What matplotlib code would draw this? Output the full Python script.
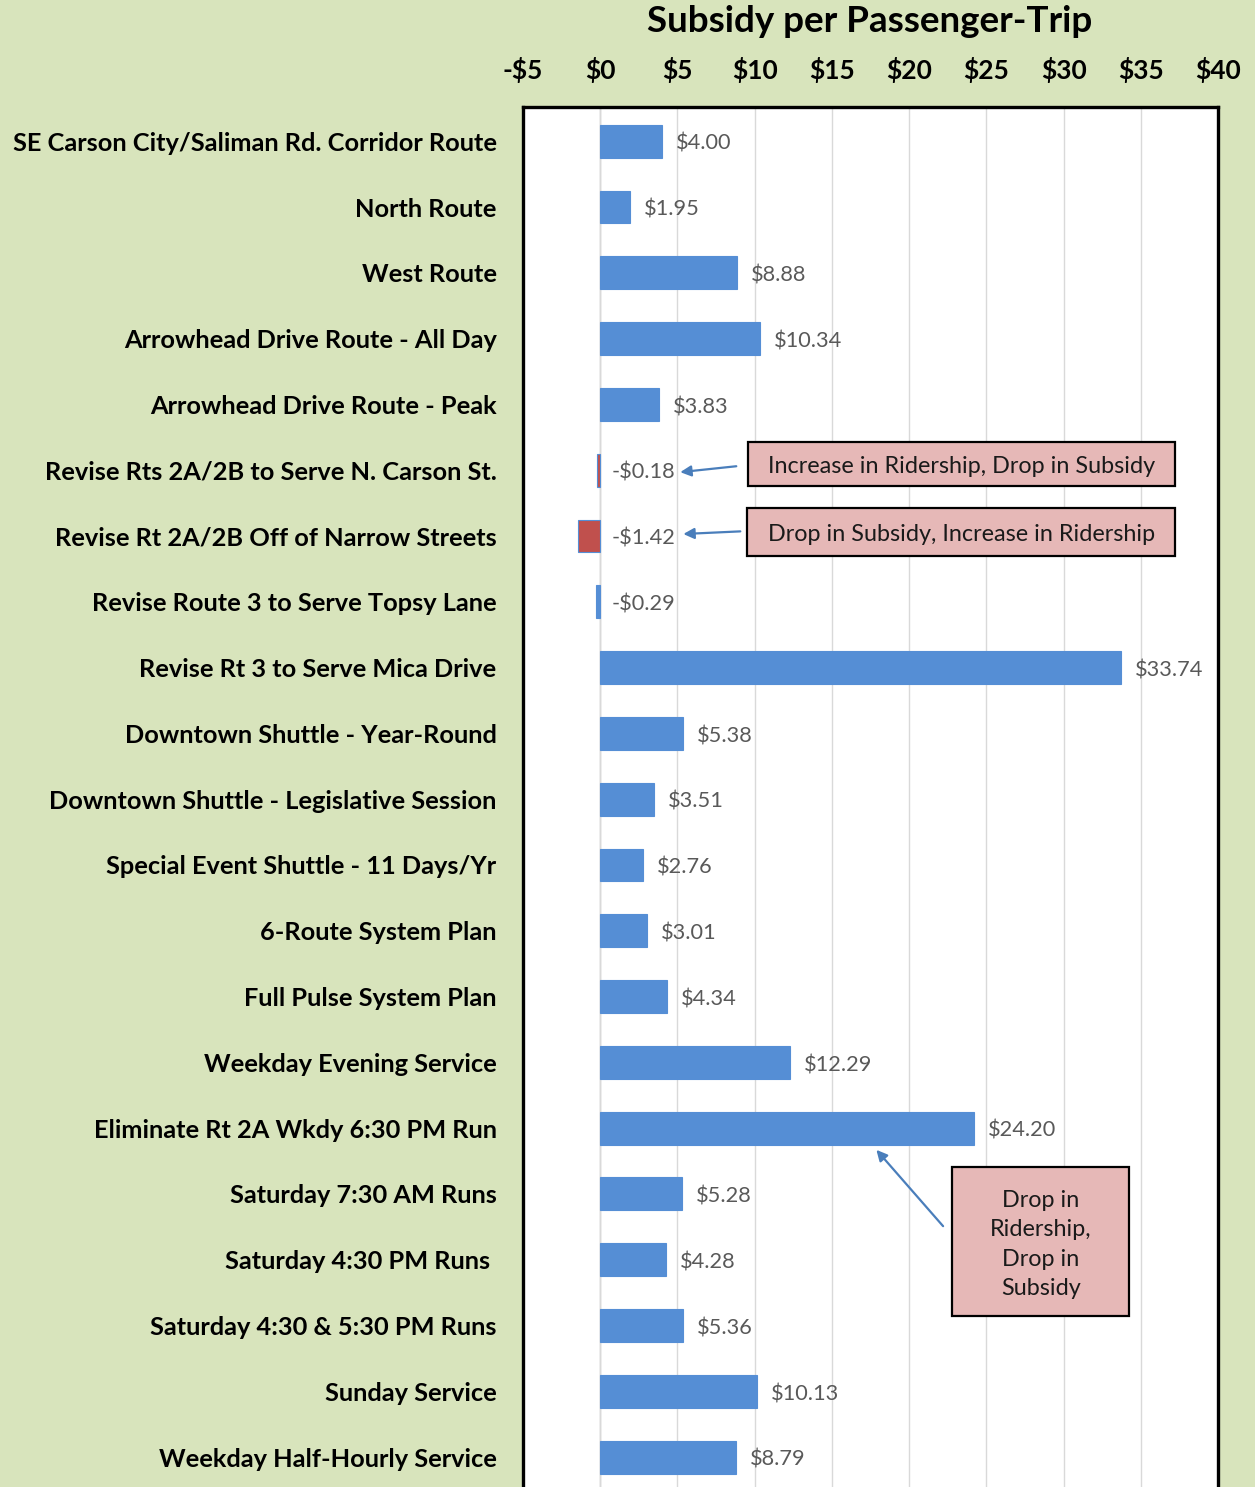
import matplotlib as mpl
mpl.use('Agg')
import matplotlib.pyplot as plt
from matplotlib.patches import Rectangle
import numpy as np

plt.rcParams['font.family'] = ['Lato', 'DejaVu Sans']

# data
routes = [
    "SE Carson City/Saliman Rd. Corridor Route",
    "North Route",
    "West Route",
    "Arrowhead Drive Route - All Day",
    "Arrowhead Drive Route - Peak",
    "Revise Rts 2A/2B to Serve N. Carson St.",
    "Revise Rt 2A/2B Off of Narrow Streets",
    "Revise Route 3 to Serve Topsy Lane",
    "Revise Rt 3 to Serve Mica Drive",
    "Downtown Shuttle - Year-Round",
    "Downtown Shuttle - Legislative Session",
    "Special Event Shuttle - 11 Days/Yr",
    "6-Route System Plan",
    "Full Pulse System Plan",
    "Weekday Evening Service",
    "Eliminate Rt 2A Wkdy 6:30 PM Run",
    "Saturday 7:30 AM Runs",
    "Saturday 4:30 PM Runs ",
    "Saturday 4:30 & 5:30 PM Runs",
    "Sunday Service",
    "Weekday Half-Hourly Service",
]
subsidy = [4.00, 1.95, 8.88, 10.34, 3.83, -0.18, -1.42, -0.29, 33.74, 5.38,
           3.51, 2.76, 3.01, 4.34, 12.29, 24.20, 5.28, 4.28, 5.36, 10.13, 8.79]
highlight = [5, 6]   # bars drawn in red
ticks = list(range(-5, 45, 5))

notes = [
    "Increase in Ridership, Drop in Subsidy",
    "Drop in Subsidy, Increase in Ridership",
    "Drop in\nRidership,\nDrop in\nSubsidy",
]

BG = '#D8E4BC'
BLUE = '#558ED5'
RED = '#C0504D'
PINK = '#E6B8B7'
ARROW = '#4A7EBB'

W, H = 1255, 1487
fig = plt.figure(figsize=(W / 100, H / 100), dpi=100, facecolor=BG)

# axes box in pixels: left 523, right 1218, top 107, bottom ~1490
ax = fig.add_axes([523 / W, -3 / H, (1218 - 523) / W, (1490 - 107) / H])
ax.set_facecolor('white')

y = np.arange(len(routes))
colors = [RED if i in highlight else BLUE for i in range(len(routes))]
ax.barh(y, subsidy, height=0.5, color=colors, edgecolor=BLUE, linewidth=0.8, zorder=3)

ax.set_xlim(-5, 40)
ax.set_ylim(20.5, -0.52)
ax.set_xticks(ticks)
ax.set_xticklabels([('-$%d' % -t) if t < 0 else ('$%d' % t) for t in ticks],
                   fontsize=19, fontweight='bold')
ax.xaxis.tick_top()
ax.tick_params(axis='x', length=0, pad=17)
ax.set_yticks(y)
ax.set_yticklabels(routes, fontsize=18.3, fontweight='bold')
ax.tick_params(axis='y', length=0, pad=19)
ax.grid(axis='x', color='#D9D9D9', linewidth=1, zorder=0)
ax.axvline(0, color='#BFBFBF', linewidth=1, zorder=1)

for s in ['top', 'left', 'right']:
    ax.spines[s].set_linewidth(2.4)
    ax.spines[s].set_color('black')
ax.spines['bottom'].set_visible(False)

# data labels
for i, v in enumerate(subsidy):
    lab = ('-$%.2f' % -v) if v < 0 else ('$%.2f' % v)
    ax.annotate(lab, (max(v, 0), i), xytext=(10 if v >= 0 else 8, -2),
                textcoords='offset points', ha='left', va='center',
                fontsize=15.7, color='#595959', zorder=4)

# callout boxes
boxes = [(9.59, 4.575, 37.24, 5.243), (9.52, 5.578, 37.24, 6.307),
         (22.8, 15.59, 34.26, 17.86)]
for (x0, y0, x1, y1), txt in zip(boxes, notes):
    ax.add_patch(Rectangle((x0, y0), x1 - x0, y1 - y0, facecolor=PINK,
                           edgecolor='black', linewidth=1.6, zorder=5))
    ax.annotate(txt, ((x0 + x1) / 2, (y0 + y1) / 2), xytext=(0, -2),
                textcoords='offset points', ha='center', va='center',
                fontsize=16.8, color='#1a1a1a', linespacing=1.5, zorder=6)

arrows = [((8.81, 4.94), (5.18, 5.03)), ((9.07, 5.93), (5.38, 5.97)),
          ((22.2, 16.49), (17.88, 15.33))]
for start, end in arrows:
    ax.annotate('', xy=end, xytext=start,
                arrowprops=dict(arrowstyle='-|>', color=ARROW, lw=1.6,
                                mutation_scale=16, shrinkA=0, shrinkB=0),
                zorder=6)

fig.text(870 / W, 1 - 22 / H, 'Subsidy per Passenger-Trip', ha='center', va='center',
         fontsize=26.5, fontweight='bold')

fig.savefig('out.png', dpi=100, facecolor=BG)
